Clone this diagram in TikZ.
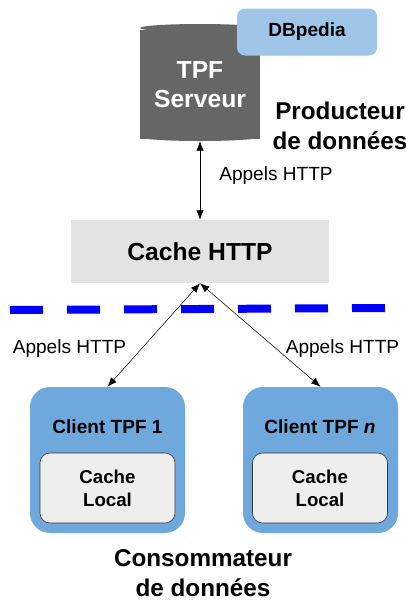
\documentclass[tikz,border=0pt]{standalone}
\usepackage{xcolor}
\usepackage{fontspec}
\setmainfont{Liberation Sans}
\usetikzlibrary{shapes.geometric,arrows.meta}
\definecolor{serveurgray}{HTML}{666666}
\definecolor{dbblue}{HTML}{9FC5E8}
\definecolor{clientblue}{HTML}{6FA8DC}
\definecolor{httpgray}{HTML}{E3E3E3}
\definecolor{localgray}{HTML}{EEEEEE}
\tikzset{
	client/.style={fill=clientblue,rounded corners=20\unitpx,minimum width=155\unitpx,minimum height=146\unitpx},
	localbox/.style={draw=black!80,fill=localgray,rounded corners=10\unitpx,minimum width=135\unitpx,minimum height=70\unitpx,align=center,font=\fontsize{14}{17}\selectfont\bfseries},
	titre/.style={align=center,inner sep=0pt,font=\fontsize{18.2}{22.5}\selectfont\bfseries},
	appels/.style={font=\fontsize{14.3}{17}\selectfont},
	boxlabel/.style={font=\fontsize{14.3}{17}\selectfont\bfseries},
	servercap/.style={ellipse,fill=serveurgray,inner sep=0pt,minimum width=120\unitpx,minimum height=8\unitpx},
	link/.style={{Latex[length=7pt,width=5.5pt]}-{Latex[length=7pt,width=5.5pt]},thin}
}
\newcommand{\unitpx}{*.75pt}
\begin{document}
\begin{tikzpicture}[x=.75pt,y=-.75pt]
	\useasboundingbox (0,0) rectangle (406,601);
	% serveur: body and its two caps
	\node[servercap] (capbas) at (200,137) {};
	\node[servercap] (caphaut) at (200,28) {};
	\node[fill=serveurgray,inner sep=0pt,minimum width=120\unitpx,minimum height=109\unitpx,align=center,text=white,font=\fontsize{18.5}{22}\selectfont\bfseries] (serveur) at (200,84.5) {TPF\\Serveur};
	\node[fill=dbblue,rounded corners=8\unitpx,minimum width=140\unitpx,minimum height=47\unitpx] (dbpedia) at (307,32) {};
	\node[boxlabel] (dbpedialabel) at (307,32) {DBpedia};
	\node[titre] (producteur) at (340,126) {Producteur\\de données};
	\node[fill=httpgray,minimum width=258\unitpx,minimum height=63\unitpx,font=\fontsize{18.5}{22}\selectfont\bfseries] (cache) at (200,251.5) {Cache HTTP};

	\draw[blue,line width=6pt,dash pattern=on 24.75pt off 18pt] (10,310) -- (386,308);

	\node[client] (client1) at (107.5,460) {};
	\node[client] (clientn) at (320.5,460) {};
	\node[boxlabel] (client1label) at (107.5,427) {Client TPF 1};
	\node[boxlabel] (clientnlabel) at (320,427) {Client TPF \textit{n}};
	\node[localbox] (local1) at (107.5,488) {Cache\\Local};
	\node[localbox] (localn) at (320,488) {Cache\\Local};
	\node[titre] (consommateur) at (203,573) {Consommateur\\de données};

	\draw[link] (capbas.south) -- (cache.north);
	\draw[link] (cache.south) -- (client1.north);
	\draw[link] (cache.south) -- (clientn.north);

	\node[appels] (appelsa) at (276,176) {Appels HTTP};
	\node[appels] (appelsb) at (69.5,349) {Appels HTTP};
	\node[appels] (appelsc) at (342.5,349) {Appels HTTP};
\end{tikzpicture}
\end{document}
